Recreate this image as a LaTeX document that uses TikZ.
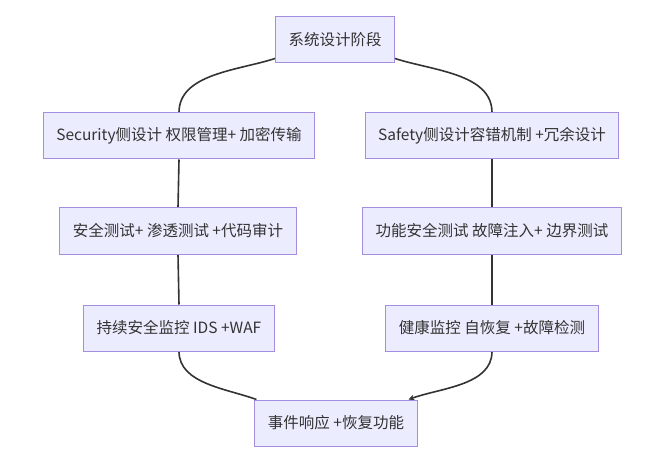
\documentclass[tikz,border=0pt]{standalone}
\usepackage{fontspec}
\setmainfont{Noto Sans CJK SC}
\usetikzlibrary{arrows.meta,backgrounds}
\definecolor{boxfill}{HTML}{ECECFF}
\definecolor{boxline}{HTML}{A58DE0}
\definecolor{edgecol}{HTML}{333333}
\tikzset{
  stage/.style={draw=boxline, fill=boxfill, line width=1pt, minimum height=46pt,
    inner xsep=13pt, text=edgecol, font=\fontsize{15.5}{18}\selectfont},
  flow/.style={draw=edgecol, line width=1.6pt}
}

\begin{document}
\begin{tikzpicture}[x=1pt,y=1pt]
  \useasboundingbox (0,0) rectangle (666,461);

  \path (335,421) node[stage] (sys) {系统设计阶段};
  \path (179,325) node[stage] (sec) {Security侧设计 权限管理+ 加密传输};
  \path (492,325) node[stage] (saf) {Safety侧设计容错机制 +冗余设计};
  \path (178,230) node[stage] (sect) {安全测试+ 渗透测试 +代码审计};
  \path (492,230) node[stage] (saft) {功能安全测试 故障注入+ 边界测试};
  \path (179,133) node[stage] (secm) {持续安全监控 IDS +WAF};
  \path (492,133) node[stage] (safm) {健康监控 自恢复 +故障检测};
  \path (336,38) node[stage] (resp) {事件响应 +恢复功能};

  % connectors go under the boxes
  \begin{scope}[on background layer]
    \draw[flow] ([yshift=5pt]sys.south west) to[out=198,in=90,looseness=0.9] (sec.north);
    \draw[flow] ([yshift=5pt]sys.south east) to[out=-18,in=90,looseness=0.9] (saf.north);
    \foreach \a/\b in {sec/sect, sect/secm, saf/saft, saft/safm}
    {
      \draw[flow] (\a.south) -- (\b.north);
    }
    \draw[flow] (secm.south) to[out=270,in=160,looseness=0.9] ([xshift=2pt]resp.north west);
    \draw[flow,-{Stealth[length=6pt,width=6pt]}] (safm.south) to[out=270,in=20,looseness=0.9] ([xshift=-9pt]resp.north east);
  \end{scope}
\end{tikzpicture}
\end{document}
